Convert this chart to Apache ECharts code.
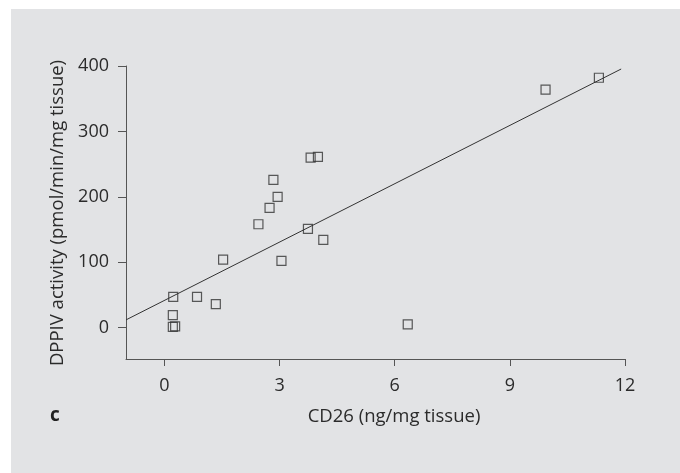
<!DOCTYPE html>
<html>
<head>
<meta charset="utf-8">
<script src="https://cdn.jsdelivr.net/npm/echarts@6/dist/echarts.min.js"></script>
<style>
  html, body { margin: 0; padding: 0; background: #fff; }
  #chart { width: 680px; height: 473px; }
</style>
</head>
<body>
<div id="chart"></div>
<script>
// CD26 (x) vs DPPIV activity (y)
let cd26 = [3.81, 4.00, 2.84, 2.95, 2.74, 2.45, 3.74, 4.14, 1.53, 3.05, 0.23, 0.85, 1.34, 0.22, 0.22, 0.28, 9.93, 11.32, 6.34];
let dppiv = [260, 261, 226, 200, 183, 158, 151, 134, 104, 102, 47, 47, 36, 19, 1, 2, 364, 382, 5];

// regression line end points
let fitX = [-1, 11.9];
let fitY = [11.8, 395.4];

let xTicks = [0, 3, 6, 9, 12];
let yTicks = [0, 100, 200, 300, 400];

let backColor = '#e2e3e5';
let inkColor = '#2b2b2b';
let fontName = '"Open Sans", sans-serif';

let chart = echarts.init(document.getElementById('chart'));

let points = [];
for (let i = 0; i < cd26.length; i++) {
    points.push([cd26[i], dppiv[i]]);
}
let fitLine = [];
for (let i = 0; i < fitX.length; i++) {
    fitLine.push([fitX[i], fitY[i]]);
}

let option = {
    animation: false,
    backgroundColor: '#ffffff',
    graphic: [
        {
            type: 'rect',
            z: -10,
            shape: {x: 11, y: 9, width: 669, height: 464},
            style: {fill: backColor}
        },
        {
            type: 'text',
            x: 58, y: 213,
            rotation: Math.PI / 2,
            style: {
                text: 'DPPIV activity (pmol/min/mg tissue)',
                font: '18.5px ' + fontName,
                fill: inkColor,
                align: 'center',
                verticalAlign: 'middle'
            }
        },
        {
            type: 'text',
            x: 394, y: 417,
            style: {
                text: 'CD26 (ng/mg tissue)',
                font: '18.5px ' + fontName,
                fill: inkColor,
                align: 'center',
                verticalAlign: 'middle'
            }
        },
        {
            type: 'text',
            x: 50, y: 416,
            style: {
                text: 'c',
                font: 'bold 19px ' + fontName,
                fill: '#222',
                align: 'left',
                verticalAlign: 'middle'
            }
        }
    ],
    grid: {left: 126, top: 66, right: 55, bottom: 114},
    xAxis: {
        type: 'value',
        min: -1,
        max: 12,
        splitLine: {show: false},
        axisLine: {show: true, onZero: false, lineStyle: {color: '#555', width: 1}},
        axisTick: {show: true, length: 7, customValues: xTicks, lineStyle: {color: '#555'}},
        axisLabel: {
            customValues: xTicks,
            margin: 18,
            color: inkColor,
            fontSize: 18,
            fontFamily: fontName
        }
    },
    yAxis: {
        type: 'value',
        min: -48,
        max: 400,
        splitLine: {show: false},
        axisLine: {show: true, onZero: false, lineStyle: {color: '#555', width: 1}},
        axisTick: {show: true, length: 8, customValues: yTicks, lineStyle: {color: '#555'}},
        axisLabel: {
            customValues: yTicks,
            margin: 17,
            color: inkColor,
            fontSize: 18,
            fontFamily: fontName
        }
    },
    series: [
        {
            type: 'line',
            data: fitLine,
            symbol: 'none',
            lineStyle: {color: '#333', width: 1}
        },
        {
            type: 'scatter',
            data: points,
            symbol: 'rect',
            symbolSize: 9,
            itemStyle: {color: 'rgba(0,0,0,0)', borderColor: '#333', borderWidth: 1.2}
        }
    ]
};

chart.setOption(option);
</script>
</body>
</html>
